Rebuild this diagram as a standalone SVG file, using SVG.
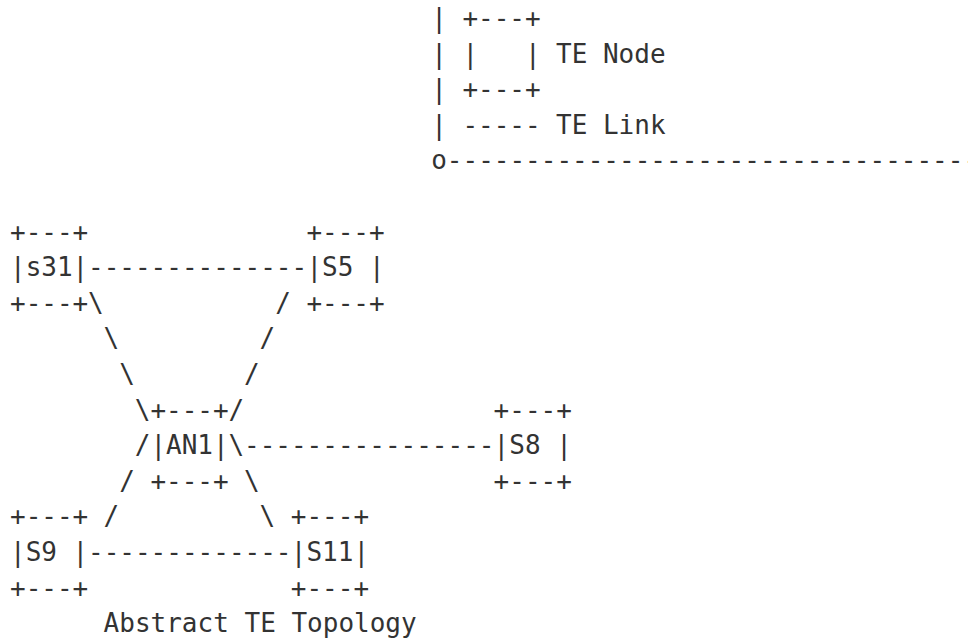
<svg xmlns="http://www.w3.org/2000/svg" width="968" height="639" viewBox="0 0 968 639">
<style>
text{font-family:"DejaVu Sans Mono","Liberation Mono",monospace;font-size:26px;fill:#333;white-space:pre}
</style>
<rect width="968" height="639" fill="#fff"/>
<g id="legend" xml:space="preserve">
<text x="431.2" y="27">|</text><text x="462.4" y="27">+---+</text>
<text x="431.2" y="62.6">|</text><text x="462.4" y="62.6">|   |</text><text x="556" y="62.6">TE Node</text>
<text x="431.2" y="98.2">|</text><text x="462.4" y="98.2">+---+</text>
<text x="431.2" y="133.8">|</text><text x="462.4" y="133.8">-----</text><text x="556" y="133.8">TE Link</text>
<text x="431.2" y="169.4">o----------------------------------</text>
</g>
<g id="connectors">
<text x="88" y="276.2">--------------</text>
<text x="88" y="311.8">\</text><text x="275.2" y="311.8">/</text>
<text x="103.6" y="347.4">\</text><text x="259.6" y="347.4">/</text>
<text x="119.2" y="383">\</text><text x="244" y="383">/</text>
<text x="134.8" y="418.6">\</text><text x="228.4" y="418.6">/</text>
<text x="134.8" y="454.2">/</text><text x="228.4" y="454.2">\</text><text x="244" y="454.2">----------------</text>
<text x="119.2" y="489.8">/</text><text x="244" y="489.8">\</text>
<text x="103.6" y="525.4">/</text><text x="259.6" y="525.4">\</text>
<text x="88" y="561">-------------</text>
</g>
<g id="node-s31">
<text x="10" y="240.6">+---+</text><text x="10" y="276.2">|s31|</text><text x="10" y="311.8">+---+</text>
</g>
<g id="node-S5" xml:space="preserve">
<text x="306.4" y="240.6">+---+</text><text x="306.4" y="276.2">|S5 |</text><text x="306.4" y="311.8">+---+</text>
</g>
<g id="node-AN1">
<text x="150.4" y="418.6">+---+</text><text x="150.4" y="454.2">|AN1|</text><text x="150.4" y="489.8">+---+</text>
</g>
<g id="node-S8" xml:space="preserve">
<text x="493.6" y="418.6">+---+</text><text x="493.6" y="454.2">|S8 |</text><text x="493.6" y="489.8">+---+</text>
</g>
<g id="node-S9" xml:space="preserve">
<text x="10" y="525.4">+---+</text><text x="10" y="561">|S9 |</text><text x="10" y="596.6">+---+</text>
</g>
<g id="node-S11">
<text x="290.8" y="525.4">+---+</text><text x="290.8" y="561">|S11|</text><text x="290.8" y="596.6">+---+</text>
</g>
<g id="title">
<text x="103.6" y="632">Abstract TE Topology</text>
</g>
</svg>
